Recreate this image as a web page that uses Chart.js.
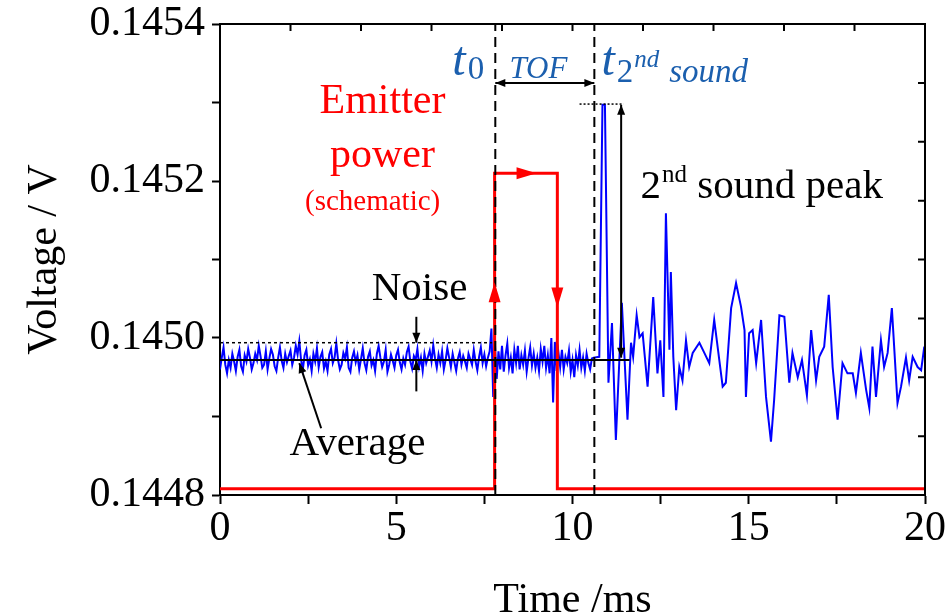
<!DOCTYPE html>
<html>
<head>
<meta charset="utf-8">
<script src="https://cdn.jsdelivr.net/npm/chart.js@4.4.1/dist/chart.umd.min.js"></script>
<style>
    html, body { margin: 0; padding: 0; background: #fff; }
    canvas { display: block; }
</style>
</head>
<body>
<canvas id="chart" width="945" height="615"></canvas>
<script>
// Second sound signal, time in ms, voltage in V
const signalTime = [
    0.00, 0.05, 0.10, 0.15, 0.20, 0.25, 0.30, 0.35, 0.40, 0.45, 0.50, 0.55, 0.60, 0.65, 0.70, 0.75, 0.80, 0.85, 0.90, 0.95,
    1.00, 1.05, 1.10, 1.15, 1.20, 1.25, 1.30, 1.35, 1.40, 1.45, 1.50, 1.55, 1.60, 1.65, 1.70, 1.75, 1.80, 1.85, 1.90, 1.95,
    2.00, 2.05, 2.10, 2.15, 2.20, 2.25, 2.30, 2.35, 2.40, 2.45, 2.50, 2.55, 2.60, 2.65, 2.70, 2.75, 2.80, 2.85, 2.90, 2.95,
    3.00, 3.05, 3.10, 3.15, 3.20, 3.25, 3.30, 3.35, 3.40, 3.45, 3.50, 3.55, 3.60, 3.65, 3.70, 3.75, 3.80, 3.85, 3.90, 3.95,
    4.00, 4.05, 4.10, 4.15, 4.20, 4.25, 4.30, 4.35, 4.40, 4.45, 4.50, 4.55, 4.60, 4.65, 4.70, 4.75, 4.80, 4.85, 4.90, 4.95,
    5.00, 5.05, 5.10, 5.15, 5.20, 5.25, 5.30, 5.35, 5.40, 5.45, 5.50, 5.55, 5.60, 5.65, 5.70, 5.75, 5.80, 5.85, 5.90, 5.95,
    6.00, 6.05, 6.10, 6.15, 6.20, 6.25, 6.30, 6.35, 6.40, 6.45, 6.50, 6.55, 6.60, 6.65, 6.70, 6.75, 6.80, 6.85, 6.90, 6.95,
    7.00, 7.05, 7.10, 7.15, 7.20, 7.25, 7.30, 7.35, 7.40, 7.45, 7.50, 7.55, 7.60, 7.65, 7.70, 7.75, 7.80, 7.85, 7.90, 7.95,
    8.00, 8.05, 8.10, 8.15, 8.20, 8.25, 8.30, 8.35, 8.40, 8.45, 8.50, 8.55, 8.60, 8.65, 8.70, 8.75, 8.80, 8.85, 8.90, 8.95,
    9.00, 9.05, 9.10, 9.15, 9.20, 9.25, 9.30, 9.35, 9.40, 9.45, 9.50, 9.55, 9.60, 9.65, 9.70, 9.75, 9.80, 9.85, 9.90, 9.95,
    10.00, 10.05, 10.10, 10.15, 10.20, 10.25, 10.30, 10.35, 10.40, 10.45, 10.50, 10.55,
    10.60, 10.76, 10.85, 10.92,
    11.02, 11.12, 11.23, 11.40, 11.56, 11.66, 11.72, 11.82, 11.90, 11.99,
    12.13, 12.29, 12.41, 12.49, 12.58, 12.65, 12.75, 12.79, 12.86, 12.94,
    13.03, 13.12, 13.22, 13.31, 13.41, 13.60, 13.74, 13.88, 14.02, 14.26,
    14.35, 14.50, 14.64, 14.78, 14.88, 14.92, 15.01, 15.11, 15.21, 15.35,
    15.49, 15.63, 15.72, 15.87, 16.01, 16.15, 16.24, 16.39, 16.51, 16.65,
    16.77, 16.91, 17.00, 17.14, 17.27, 17.38, 17.52, 17.66, 17.80, 17.95,
    18.04, 18.18, 18.33, 18.42, 18.51, 18.61, 18.75, 18.84, 18.94, 19.06,
    19.22, 19.32, 19.46, 19.55, 19.65, 19.79, 19.89, 19.98
];
const signalVolt = [
    0.144960, 0.144975, 0.144988, 0.144966, 0.144955, 0.144972, 0.144962, 0.144980, 0.144970, 0.144958, 0.144976, 0.144985, 0.144964, 0.144957, 0.144978, 0.144970, 0.144986, 0.144975, 0.144960, 0.144968,
    0.144980, 0.144972, 0.144990, 0.144977, 0.144962, 0.144966, 0.144983, 0.144960, 0.144974, 0.144986, 0.144979, 0.144964, 0.144958, 0.144975, 0.144988, 0.144971, 0.144962, 0.144980, 0.144969, 0.144977,
    0.144984, 0.144966, 0.144975, 0.144990, 0.144979, 0.144996, 0.144972, 0.144960, 0.144978, 0.144985, 0.144965, 0.144973, 0.144958, 0.144980, 0.144970, 0.144987, 0.144963, 0.144976, 0.144982, 0.144961,
    0.144970, 0.144958, 0.144979, 0.144986, 0.144968, 0.144975, 0.144993, 0.144972, 0.144960, 0.144966, 0.144981, 0.144974, 0.144988, 0.144962, 0.144957, 0.144975, 0.144983, 0.144969, 0.144978, 0.144960,
    0.144973, 0.144987, 0.144968, 0.144959, 0.144976, 0.144983, 0.144965, 0.144972, 0.144958, 0.144980, 0.144990, 0.144975, 0.144963, 0.144970, 0.144985, 0.144957, 0.144966, 0.144979, 0.144971, 0.144962,
    0.144978, 0.144985, 0.144969, 0.144960, 0.144974, 0.144966, 0.144982, 0.144989, 0.144970, 0.144961, 0.144977, 0.144972, 0.144986, 0.144964, 0.144975, 0.144958, 0.144980, 0.144968, 0.144976, 0.144984,
    0.144970, 0.144991, 0.144974, 0.144962, 0.144979, 0.144968, 0.144983, 0.144960, 0.144972, 0.144987, 0.144975, 0.144963, 0.144980, 0.144969, 0.144958, 0.144974, 0.144982, 0.144966, 0.144977, 0.144970,
    0.144962, 0.144980, 0.144973, 0.144966, 0.144985, 0.144970, 0.144959, 0.144976, 0.144988, 0.144968, 0.144979, 0.144964, 0.144975, 0.144983, 0.145012, 0.144925, 0.144992, 0.144948, 0.144983, 0.144960,
    0.144990, 0.144957, 0.144978, 0.144993, 0.144962, 0.144975, 0.144955, 0.144985, 0.144968, 0.144990, 0.144960, 0.144978, 0.144966, 0.144984, 0.144957, 0.144974, 0.144988, 0.144965, 0.144980, 0.144962,
    0.144975, 0.144958, 0.144986, 0.144970, 0.144990, 0.144962, 0.144978, 0.144955, 0.145000, 0.144918, 0.144995, 0.144958, 0.144982, 0.144963, 0.144985, 0.144960, 0.144976, 0.144968, 0.144984, 0.144957,
    0.144972, 0.144950, 0.144978, 0.144965, 0.144985, 0.144962, 0.144975, 0.144958, 0.144980, 0.144968, 0.144960, 0.144974,
    0.144975, 0.144976, 0.145297, 0.145297,
    0.144943, 0.145019, 0.144870, 0.145045, 0.144896, 0.144994, 0.144976, 0.145029, 0.145001, 0.145006,
    0.144938, 0.145052, 0.144955, 0.144997, 0.144925, 0.145159, 0.144985, 0.145084, 0.144976, 0.144908,
    0.144963, 0.144946, 0.144997, 0.144963, 0.144981, 0.144994, 0.144981, 0.144968, 0.145023, 0.144938,
    0.144943, 0.145038, 0.145070, 0.145040, 0.145010, 0.144925, 0.145006, 0.145010, 0.144968, 0.145023,
    0.144925, 0.144868, 0.144921, 0.145029, 0.145027, 0.144943, 0.144981, 0.144950, 0.144972, 0.144927,
    0.145010, 0.144946, 0.144976, 0.144989, 0.145055, 0.144963, 0.144896, 0.144968, 0.144955, 0.144955,
    0.144930, 0.144981, 0.144934, 0.144911, 0.144989, 0.144925, 0.144997, 0.144963, 0.144981, 0.145038,
    0.144917, 0.144938, 0.144975, 0.144946, 0.144976, 0.144963, 0.144959, 0.144989
];

// Emitter power pulse (schematic), drawn on the voltage scale
const emitterTime = [0, 7.79, 7.79, 9.57, 9.57, 20];
const emitterVolt = [0.144808, 0.144808, 0.14521, 0.14521, 0.144808, 0.144808];

// Guide lines
const averageTime = [0, 11.62];
const averageVolt = [0.144972, 0.144972];
const noiseTopTime = [0, 7.72];
const noiseTopVolt = [0.144994, 0.144994];
const peakTopTime = [10.2, 11.45];
const peakTopVolt = [0.145298, 0.145298];
const t0Time = 7.81;
const t2ndTime = 10.62;

// Axis range and ticks
const xMin = 0, xMax = 20, xStep = 2.5;
const yMin = 0.1448, yMax = 0.1454, yStep = 0.0001;
const topTicks = [2, 4, 6, 8, 10, 12, 14, 16, 18];
const rightTicks = [0.145325, 0.14525, 0.145175, 0.1451, 0.145025, 0.14495, 0.144875];

const serif = '"Liberation Serif", "Times New Roman", serif';
const mathBlue = '#1b5fae';

function pts(xs, ys) {
    return xs.map((t, i) => ({ x: t, y: ys[i] }));
}

function arrowHead(ctx, x1, y1, x2, y2, size, width) {
    const ang = Math.atan2(y2 - y1, x2 - x1);
    ctx.beginPath();
    ctx.moveTo(x2, y2);
    ctx.lineTo(x2 - size * Math.cos(ang) + width * Math.sin(ang), y2 - size * Math.sin(ang) - width * Math.cos(ang));
    ctx.lineTo(x2 - size * Math.cos(ang) - width * Math.sin(ang), y2 - size * Math.sin(ang) + width * Math.cos(ang));
    ctx.closePath();
    ctx.fill();
}

function arrow(ctx, x1, y1, x2, y2, both) {
    ctx.beginPath();
    ctx.moveTo(x1, y1);
    ctx.lineTo(x2, y2);
    ctx.stroke();
    arrowHead(ctx, x1, y1, x2, y2, 10, 4);
    if (both) arrowHead(ctx, x2, y2, x1, y1, 10, 4);
}

const annotate = {
    id: 'annotate',
    afterDatasetsDraw(chart) {
        const { ctx, chartArea: a, scales: { x, y } } = chart;
        const px = v => x.getPixelForValue(v);
        const py = v => y.getPixelForValue(v);
        ctx.save();

        // top and right frame with inward ticks
        ctx.strokeStyle = '#000';
        ctx.lineWidth = 2;
        ctx.beginPath();
        ctx.moveTo(a.left, a.top);
        ctx.lineTo(a.right, a.top);
        ctx.lineTo(a.right, a.bottom);
        topTicks.forEach(t => { ctx.moveTo(px(t), a.top); ctx.lineTo(px(t), a.top + 7); });
        rightTicks.forEach(v => { ctx.moveTo(a.right, py(v)); ctx.lineTo(a.right - 7, py(v)); });
        ctx.stroke();

        // red arrows on the emitter pulse
        ctx.fillStyle = '#ff0000';
        arrowHead(ctx, px(7.79), py(0.14503), px(7.79), py(0.145071), 20, 6);
        arrowHead(ctx, px(8.4), py(0.14521), px(8.98), py(0.14521), 20, 6);
        arrowHead(ctx, px(9.57), py(0.145075), px(9.57), py(0.145039), 20, 6);

        // black arrows
        ctx.fillStyle = '#000';
        ctx.strokeStyle = '#000';
        ctx.lineWidth = 2;
        arrow(ctx, px(t0Time), py(0.145325), px(t2ndTime), py(0.145325), true);
        arrow(ctx, px(11.38), py(0.144975), px(11.38), py(0.145297), true);
        arrow(ctx, px(5.57), py(0.145027), px(5.57), py(0.144994), false);
        arrow(ctx, px(5.57), py(0.144932), px(5.57), py(0.144972), false);
        arrow(ctx, px(2.87), py(0.144885), px(2.25), py(0.144968), false);

        // labels
        ctx.textBaseline = 'alphabetic';
        ctx.textAlign = 'center';
        ctx.fillStyle = '#000';
        ctx.font = '41px ' + serif;
        ctx.fillText('Noise', px(5.66), py(0.145048));
        ctx.fillText('Average', px(3.9), py(0.144851));

        ctx.fillStyle = '#ff0000';
        ctx.font = '42px ' + serif;
        ctx.fillText('Emitter', px(4.61), py(0.145286));
        ctx.fillText('power', px(4.61), py(0.145218));
        ctx.font = '29px ' + serif;
        ctx.fillText('(schematic)', px(4.33), py(0.145163));

        // 2nd sound peak
        ctx.textAlign = 'left';
        ctx.fillStyle = '#000';
        let cx = px(11.93);
        const by = py(0.145178);
        ctx.font = '41px ' + serif;
        ctx.fillText('2', cx, by);
        cx += ctx.measureText('2').width + 1;
        ctx.font = '25px ' + serif;
        ctx.fillText('nd', cx, by - 16);
        cx += ctx.measureText('nd').width;
        ctx.font = '41px ' + serif;
        ctx.fillText(' sound peak', cx, by);

        // math labels
        ctx.fillStyle = mathBlue;
        const my = py(0.145335);
        cx = px(6.59);
        ctx.font = 'italic 48px ' + serif;
        ctx.fillText('t', cx, my);
        cx += ctx.measureText('t').width + 2;
        ctx.font = '33px ' + serif;
        ctx.fillText('0', cx, my + 4);

        ctx.font = 'italic 31px ' + serif;
        ctx.fillText('TOF', px(8.21), py(0.145331));

        cx = px(10.82);
        ctx.font = 'italic 48px ' + serif;
        ctx.fillText('t', cx, my);
        cx += ctx.measureText('t').width + 2;
        ctx.font = '33px ' + serif;
        ctx.fillText('2', cx, my + 7);
        cx += ctx.measureText('2').width + 1;
        ctx.font = 'italic 25px ' + serif;
        ctx.fillText('nd', cx, my - 8);
        cx += ctx.measureText('nd').width + 10;
        ctx.font = 'italic 33px ' + serif;
        ctx.fillText('sound', cx, my + 7);

        ctx.restore();
    }
};

const line = (data, color, width, dash, order) => ({
    data, borderColor: color, borderWidth: width, borderDash: dash || [],
    pointRadius: 0, fill: false, tension: 0, order
});

new Chart(document.getElementById('chart'), {
    type: 'line',
    data: {
        datasets: [
            line(pts(signalTime, signalVolt), '#0000ff', 2, null, 5),
            line(pts(emitterTime, emitterVolt), '#ff0000', 3, null, 4),
            line(pts(averageTime, averageVolt), '#000', 2, null, 3),
            line(pts(noiseTopTime, noiseTopVolt), '#000', 1.5, [3, 3], 3),
            line(pts(peakTopTime, peakTopVolt), '#000', 1.5, [2, 2], 3),
            line(pts([t0Time, t0Time], [yMin, yMax]), '#000', 2, [10, 6], 2),
            line(pts([t2ndTime, t2ndTime], [yMin, yMax]), '#000', 2, [10, 6], 2)
        ]
    },
    options: {
        responsive: false,
        animation: false,
        layout: { padding: { top: 24, right: 20, left: 0, bottom: 0 } },
        plugins: { legend: { display: false }, tooltip: { enabled: false } },
        scales: {
            x: {
                type: 'linear',
                min: xMin, max: xMax,
                afterFit: s => { s.height = 120; s.paddingLeft = 0; s.paddingRight = 0; },
                grid: { drawOnChartArea: false, drawTicks: true, tickLength: 9, tickColor: '#000', tickWidth: 2 },
                border: { color: '#000', width: 2 },
                ticks: {
                    stepSize: xStep, color: '#000', padding: 0, maxRotation: 0,
                    font: { family: serif, size: 42 },
                    callback: v => (v % 5 === 0 ? String(v) : '')
                },
                title: { display: true, text: 'Time /ms', color: '#000', font: { family: serif, size: 42, lineHeight: 1 }, padding: { top: 0, bottom: -7 } }
            },
            y: {
                min: yMin, max: yMax,
                afterFit: s => { s.width = 220; s.paddingTop = 0; s.paddingBottom = 0; },
                grid: { drawOnChartArea: false, drawTicks: true, tickLength: 8, tickColor: '#000', tickWidth: 2 },
                border: { color: '#000', width: 2 },
                ticks: {
                    stepSize: yStep, color: '#000', padding: 7,
                    font: { family: serif, size: 42 },
                    callback: v => {
                        const k = Math.round(v * 10000);
                        return k % 2 === 0 ? (k / 10000).toFixed(4) : '';
                    }
                },
                title: { display: true, text: 'Voltage / V', color: '#000', font: { family: serif, size: 42, lineHeight: 1 }, padding: { top: 24, bottom: 0 } }
            }
        }
    },
    plugins: [annotate]
});
</script>
</body>
</html>
